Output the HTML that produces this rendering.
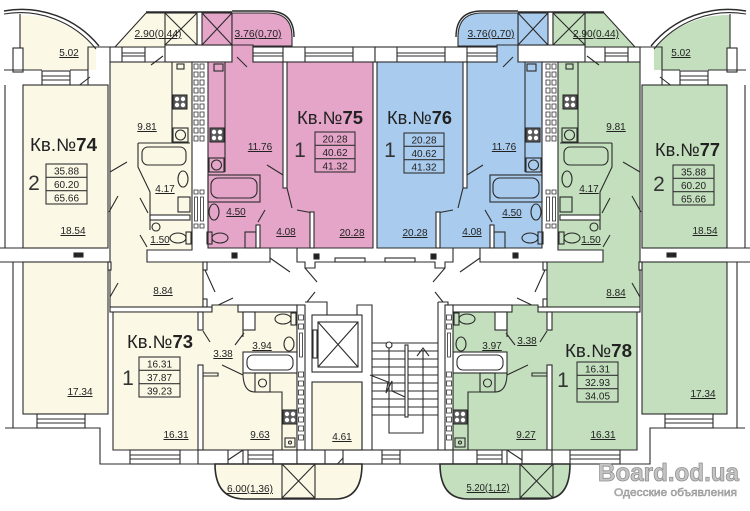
<!DOCTYPE html>
<html><head><meta charset="utf-8">
<style>
html,body{margin:0;padding:0;background:#fff;}
svg{display:block;}
text{font-family:"Liberation Sans",sans-serif;fill:#222;}
.n{font-size:10px;text-anchor:middle;text-decoration:underline;}
.b{font-size:10px;text-anchor:middle;}
.k{font-size:18px;}
.r{font-size:21px;text-anchor:middle;fill:#333;}
</style></head><body>
<svg width="750" height="511" viewBox="0 0 750 511" xmlns="http://www.w3.org/2000/svg">
<defs>
<g id="stove">
  <rect x="0" y="0" width="14" height="14" fill="#5a5a5a" stroke="#222" stroke-width="1"/>
  <circle cx="4" cy="4" r="2.2" fill="#fff" stroke="none"/>
  <circle cx="10" cy="4" r="2.2" fill="#fff" stroke="none"/>
  <circle cx="4" cy="10" r="2.2" fill="#fff" stroke="none"/>
  <circle cx="10" cy="10" r="2.2" fill="#fff" stroke="none"/>
</g>
<g id="half" fill="none" stroke="#2b2b2b" stroke-width="1.1">
  <!-- balcony 5.02 -->
  <path d="M20,15 A98,98 0 0 1 96,48 V70 H20 Z" style="fill:var(--a,#FBF8E6)" stroke="none"/>
  <path d="M4,11 A100,100 0 0 1 99,46" stroke-width="1.4"/>
  <path d="M4,14 A97,97 0 0 1 96,49"/>
  <path d="M20,14 V48"/>
  <rect x="13" y="48" width="10" height="24" fill="#fff"/>
  <path d="M4,70 H42 M70,70 H88 M88,85 V47 H115"/>
  <path d="M77,87 L90,77"/>
  <rect x="42" y="71" width="28" height="14" fill="#fff"/>
  <path d="M42,76 H70 M42,80 H70"/>
  <!-- bedroom 18.54 -->
  <rect x="23" y="85" width="85" height="163" style="fill:var(--a,#FBF8E6)"/>
  <path d="M5,85 V248 M0,248 H23 M0,262 H23 M13,262 V428"/>
  <!-- hall -->
  <path d="M110,62 H192 V250 H147 V262 H203 V307 H110 Z" style="fill:var(--a,#FBF8E6)"/>
  <path d="M110,172 L127,162 M109,212 L118,196"/>
  <rect x="110" y="47" width="35" height="15" fill="#fff"/>
  <path d="M122,47 V62 M122,53 H145 M122,56 H145"/>
  <!-- 2.90 balcony -->
  <path d="M115,47 L146,13 H197 V45 H165 V47 Z" style="fill:var(--a,#FBF8E6)"/>
  <path d="M146,12 H232" stroke-width="1.6"/>
  <rect x="165" y="13" width="32" height="32" style="fill:var(--a,#FBF8E6)"/>
  <path d="M165,13 L197,45 M197,13 L165,45"/>
  <rect x="165" y="45" width="67" height="17" fill="#fff"/>
  <path d="M151,65 L163,56"/>
  <!-- kitchen 74 -->
  <path d="M172,62 V143"/>
  <rect x="177" y="64" width="7" height="5"/>
  <use href="#stove" x="173" y="95"/>
  <rect x="173" y="128" width="15" height="14"/><circle cx="180.5" cy="135" r="5"/>
  <!-- bath 74 -->
  <path d="M138,143 H190 M138,143 V167 L150,192 V230"/>
  <rect x="142" y="147" width="44" height="18" rx="6"/>
  <ellipse cx="183" cy="179" rx="5" ry="8"/>
  <rect x="178" y="197" width="12" height="15"/>
  <rect x="150" y="215" width="40" height="5" fill="#fff"/>
  <circle cx="156" cy="227" r="4"/>
  <ellipse cx="178" cy="238" rx="8" ry="5"/><rect x="186" y="232" width="5" height="12"/>
  <path d="M140,198 L148,213 M140,235 L147,247"/>
  <!-- vents -->
  <path stroke-width="0.8" d="M194,64h4v5h-4zM200,64h4v5h-4zM194,72h4v5h-4zM200,72h4v5h-4zM194,80h4v5h-4zM200,80h4v5h-4zM194,88h4v5h-4zM200,88h4v5h-4zM194,96h4v5h-4zM200,96h4v5h-4zM194,104h4v5h-4zM200,104h4v5h-4zM194,112h4v5h-4zM200,112h4v5h-4zM194,120h4v5h-4zM200,120h4v5h-4zM194,128h4v5h-4zM200,128h4v5h-4zM194,136h4v5h-4zM200,136h4v5h-4z"/>
  <path stroke-width="0.8" d="M194,190h4v4h-4zM200,190h4v4h-4zM194.5,197h3v24h-3zM200.5,197h3v24h-3zM194,224h4v4h-4zM200,224h4v4h-4z"/>
  <!-- pink 75 -->
  <rect x="202" y="13" width="30" height="32" style="fill:var(--b,#E4A5C8)"/>
  <path d="M202,13 L232,45 M232,13 L202,45"/>
  <path d="M232,13 H268 Q292,13 292,37 V46 H232 Z" style="fill:var(--b,#E4A5C8)"/>
  <path d="M232,11 H268 Q294,11 294,37" stroke-width="1.4"/>
  <path d="M208,62 H232 V45 H253 V62 H373 V248 H208 Z" style="fill:var(--b,#E4A5C8)"/>
  <path d="M237,57 L247,67"/>
  <rect x="253" y="47" width="122" height="15" fill="#fff"/>
  <path d="M253,53 H283 M253,56 H283 M305,53 H353 M305,56 H353 M283,47 V62 M305,47 V62 M353,47 V62"/>
  <path d="M225,62 V172"/>
  <rect x="214" y="64" width="9" height="7"/>
  <use href="#stove" x="210" y="128"/>
  <rect x="209" y="158" width="15" height="14"/><circle cx="216.5" cy="165" r="5"/>
  <rect x="208" y="175" width="52" height="27"/>
  <rect x="211" y="178" width="46" height="20" rx="7"/>
  <ellipse cx="214" cy="212" rx="5" ry="8"/>
  <ellipse cx="220" cy="238" rx="8" ry="5"/><rect x="207" y="232" width="5" height="12"/>
  <rect x="245" y="232" width="11" height="16"/>
  <rect x="256" y="225" width="4" height="23" fill="#fff"/>
  <path d="M258,222 L265,210"/>
  <rect x="283" y="62" width="4" height="126" fill="#fff"/>
  <path d="M267,165 L283,175 M287,188 L292,208 M297,210 L313,213"/>
  <rect x="310" y="212" width="4" height="36" fill="#fff"/>
  <!-- corridor band -->
  <path d="M203,262 H270 V248"/>
  <rect x="232" y="253" width="5" height="5" fill="#222"/>
  <path d="M270,258 L290,272"/>
  <path d="M297,248 V262 H305 V268 H315 V262 H375"/>
  <rect x="335" y="258" width="30" height="4"/>
  <rect x="314" y="254" width="5" height="5" fill="#222"/>
  <path d="M305,268 L317,282 M315,292 L307,302"/>
  <rect x="203" y="262" width="4" height="8" fill="#fff"/>
  <path d="M205,270 L215,292"/>
  <rect x="203" y="299" width="4" height="8" fill="#fff"/>
  <path d="M233,298 L212,308"/>
  <rect x="74" y="253" width="4" height="4" fill="#222"/><rect x="79" y="253" width="4" height="4" fill="#222"/>
  <!-- bedroom 17.34 -->
  <rect x="23" y="262" width="85" height="152" style="fill:var(--a,#FBF8E6)"/>
  <rect x="108" y="262" width="3" height="8" fill="#fff"/>
  <path d="M110,297 L118,283"/>
  <rect x="37" y="414" width="48" height="14" fill="#fff"/>
  <path d="M37,419 H85 M37,423 H85"/>
  <path d="M5,428 H100 V464 H130 M180,464 H198"/>
  <!-- apt 73 -->
  <rect x="110" y="307" width="102" height="5" fill="#fff"/>
  <path d="M113,312 H212 V305 H297 V450 H113 Z" style="fill:var(--a,#FBF8E6)"/>
  <rect x="238" y="305" width="59" height="7" fill="#fff"/>
  <rect x="243" y="312" width="12" height="18" fill="#fff"/>
  <ellipse cx="283" cy="319" rx="8" ry="5"/><rect x="291" y="313" width="5" height="12"/>
  <ellipse cx="289" cy="344" rx="5" ry="7"/>
  <rect x="243" y="352" width="54" height="21" fill="#fff"/>
  <rect x="247" y="355" width="46" height="15" rx="6"/>
  <rect x="255" y="373" width="15" height="19"/><circle cx="262.5" cy="383" r="4"/>
  <path d="M255,392 H282 V450"/>
  <use href="#stove" x="283" y="410"/>
  <rect x="285" y="438" width="10" height="9"/><circle cx="290" cy="442.5" r="1.5"/>
  <path d="M243,373 Q243,392 255,392"/>
  <path d="M222,365 L243,375"/>
  <path d="M243,312 V337 M235,345 L244,333"/>
  <rect x="297" y="305" width="8" height="145" fill="#fff"/>
  <path stroke-width="0.8" d="M298.5,315h5v5h-5zM298.5,324h5v5h-5zM299.5,333h3v24h-3zM298.5,372h5v5h-5zM298.5,381h5v5h-5zM298.5,390h5v5h-5zM298.5,399h5v5h-5zM298.5,408h5v5h-5zM298.5,417h5v5h-5zM298.5,426h5v5h-5zM298.5,435h5v5h-5z"/>
  <rect x="198" y="365" width="5" height="85" fill="#fff"/>
  <rect x="198" y="312" width="5" height="18" fill="#fff"/>
  <path d="M203,331 L210,342 M203,373 H218 V376 H203"/>
  <rect x="130" y="450" width="50" height="14" fill="#fff"/>
  <path d="M130,455 H180 M130,459 H180"/>
  <rect x="198" y="450" width="30" height="14" fill="#fff"/>
  <rect x="243" y="450" width="54" height="14" fill="#fff"/>
  <path d="M248,450 V464 M273,450 V464 M248,455 H273 M248,459 H273"/>
  <path d="M228,460 L243,450"/>
</g>
</defs>

<use href="#half" style="--a:#FBF8E6;--b:#E4A5C8"/>
<use href="#half" transform="matrix(-1 0 0 1 750 0)" style="--a:#C3DFBE;--b:#A9CBEE"/>

<!-- center core -->
<g fill="none" stroke="#2b2b2b" stroke-width="1.1">
  <rect x="297" y="450" width="28" height="14" fill="#fff"/>
  <rect x="343" y="450" width="110" height="14" fill="#fff"/>
  <path d="M382,450 V464 M400,450 V464 M382,455 H400 M382,459 H400"/>
  <path d="M332,470 L343,458"/>
  <path d="M305,302 H327 V315 M357,315 V305 H372 V450 M438,302 V450 M438,302 H448 V305"/>
  <rect x="312" y="315" width="50" height="57" fill="#fff"/>
  <rect x="318" y="322" width="40" height="45"/>
  <path d="M318,322 L358,367 M358,322 L318,367"/>
  <rect x="313" y="330" width="4" height="28" fill="#fff"/>
  <rect x="312" y="382" width="50" height="68" fill="#FBF8E6"/>
  <path d="M362,382 V450"/>
  <path d="M372,343 H438 M372,351 H438 M372,359 H438 M372,367 H438 M372,375 H438 M372,383 H438 M372,391 H438 M372,399 H438 M372,407 H438 M372,415 H438"/>
  <path d="M389,345 V433 H423 V350"/>
  <circle cx="389" cy="345" r="3" fill="#fff"/>
  <path d="M417,356 L423,348 L429,356"/>
  <rect x="405" y="345" width="3" height="72" fill="#fff"/>
  <path d="M370,375 L388,382 L386,393 L392,381 L392,391 L405,397"/>
  <!-- balcony 6.00 -->
  <path d="M215,464 Q215,499 245,499 H335 Q362,499 362,464 Z" fill="#FBF8E6" stroke-width="1.6"/>
  <rect x="282" y="464" width="33" height="34"/>
  <path d="M282,464 L315,498 M315,464 L282,498"/>
  <!-- balcony 5.20 -->
  <path d="M440,464 Q440,499 468,499 H545 Q570,499 570,464 Z" fill="#C3DFBE" stroke-width="1.6"/>
  <rect x="520" y="464" width="33" height="34"/>
  <path d="M520,464 L553,498 M553,464 L520,498"/>
</g>

<!-- labels -->
<text class="n" x="69" y="56">5.02</text>
<text class="n" x="681" y="56">5.02</text>
<text class="n" x="158" y="37" textLength="47" lengthAdjust="spacingAndGlyphs">2.90(0.44)</text>
<text class="n" x="596" y="37" textLength="46" lengthAdjust="spacingAndGlyphs">2.90(0.44)</text>
<text class="n" x="258" y="37" textLength="47" lengthAdjust="spacingAndGlyphs">3.76(0,70)</text>
<text class="n" x="491" y="37" textLength="47" lengthAdjust="spacingAndGlyphs">3.76(0,70)</text>
<text class="n" x="147" y="130">9.81</text>
<text class="n" x="616" y="130">9.81</text>
<text class="n" x="165" y="192">4.17</text>
<text class="n" x="589" y="192">4.17</text>
<text class="n" x="236" y="215">4.50</text>
<text class="n" x="512" y="216">4.50</text>
<text class="n" x="160" y="243">1.50</text>
<text class="n" x="591" y="243">1.50</text>
<text class="n" x="73" y="234">18.54</text>
<text class="n" x="705" y="234">18.54</text>
<text class="n" x="260" y="150">11.76</text>
<text class="n" x="504" y="150">11.76</text>
<text class="n" x="286" y="235">4.08</text>
<text class="n" x="472" y="235">4.08</text>
<text class="n" x="352" y="236">20.28</text>
<text class="n" x="415" y="236">20.28</text>
<text class="n" x="163" y="294">8.84</text>
<text class="n" x="616" y="296">8.84</text>
<text class="n" x="223" y="357">3.38</text>
<text class="n" x="527" y="344">3.38</text>
<text class="n" x="80" y="395">17.34</text>
<text class="n" x="703" y="397">17.34</text>
<text class="n" x="176" y="438">16.31</text>
<text class="n" x="603" y="438">16.31</text>
<text class="n" x="262" y="349">3.94</text>
<text class="n" x="492" y="349">3.97</text>
<text class="n" x="260" y="438">9.63</text>
<text class="n" x="526" y="438">9.27</text>
<text class="n" x="342" y="440">4.61</text>
<text class="n" x="250" y="492" textLength="46" lengthAdjust="spacingAndGlyphs">6.00(1,36)</text>
<text class="n" x="488" y="491" textLength="43" lengthAdjust="spacingAndGlyphs">5.20(1,12)</text>

<!-- apartment titles -->
<text class="k" x="30" y="151" textLength="67" lengthAdjust="spacingAndGlyphs">Кв.№<tspan font-weight="bold">74</tspan></text>
<text class="k" x="297" y="124" textLength="66" lengthAdjust="spacingAndGlyphs">Кв.№<tspan font-weight="bold">75</tspan></text>
<text class="k" x="387" y="124" textLength="65" lengthAdjust="spacingAndGlyphs">Кв.№<tspan font-weight="bold">76</tspan></text>
<text class="k" x="655" y="156" textLength="65" lengthAdjust="spacingAndGlyphs">Кв.№<tspan font-weight="bold">77</tspan></text>
<text class="k" x="127" y="348" textLength="66" lengthAdjust="spacingAndGlyphs">Кв.№<tspan font-weight="bold">73</tspan></text>
<text class="k" x="565" y="357" textLength="67" lengthAdjust="spacingAndGlyphs">Кв.№<tspan font-weight="bold">78</tspan></text>

<text class="r" x="34" y="190">2</text>
<text class="r" x="659" y="191">2</text>
<text class="r" x="300" y="157">1</text>
<text class="r" x="390" y="157">1</text>
<text class="r" x="128" y="385">1</text>
<text class="r" x="563" y="387">1</text>

<!-- area boxes -->
<g fill="none" stroke="#333" stroke-width="1.1">
  <rect x="46" y="164" width="41" height="40"/><path d="M46,177.3 H87 M46,190.7 H87"/>
  <rect x="315" y="132" width="40" height="40"/><path d="M315,145.3 H355 M315,158.7 H355"/>
  <rect x="404" y="133" width="40" height="40"/><path d="M404,146.3 H444 M404,159.7 H444"/>
  <rect x="673" y="165" width="41" height="40"/><path d="M673,178.3 H714 M673,191.7 H714"/>
  <rect x="139" y="357" width="41" height="40"/><path d="M139,370.3 H180 M139,383.7 H180"/>
  <rect x="577" y="362" width="41" height="40"/><path d="M577,375.3 H618 M577,388.7 H618"/>
</g>
<text class="b" x="66.5" y="174.5">35.88</text><text class="b" x="66.5" y="188">60.20</text><text class="b" x="66.5" y="201.3">65.66</text>
<text class="b" x="335" y="142.5">20.28</text><text class="b" x="335" y="156">40.62</text><text class="b" x="335" y="169.3">41.32</text>
<text class="b" x="424" y="143.5">20.28</text><text class="b" x="424" y="157">40.62</text><text class="b" x="424" y="170.3">41.32</text>
<text class="b" x="693.5" y="175.5">35.88</text><text class="b" x="693.5" y="189">60.20</text><text class="b" x="693.5" y="202.3">65.66</text>
<text class="b" x="159.5" y="367.5">16.31</text><text class="b" x="159.5" y="381">37.87</text><text class="b" x="159.5" y="394.3">39.23</text>
<text class="b" x="597.5" y="372.5">16.31</text><text class="b" x="597.5" y="386">32.93</text><text class="b" x="597.5" y="399.3">34.05</text>

<!-- watermark -->
<text x="598" y="481" font-size="25" font-weight="bold" style="fill:#c4c4c4;stroke:#8f8f8f;stroke-width:0.8" textLength="141" lengthAdjust="spacingAndGlyphs">Board.od.ua</text>
<text x="614" y="496" font-size="11" style="fill:#c4c4c4;stroke:#8f8f8f;stroke-width:0.5" textLength="123" lengthAdjust="spacingAndGlyphs">Одесские объявления</text>
</svg>
</body></html>
